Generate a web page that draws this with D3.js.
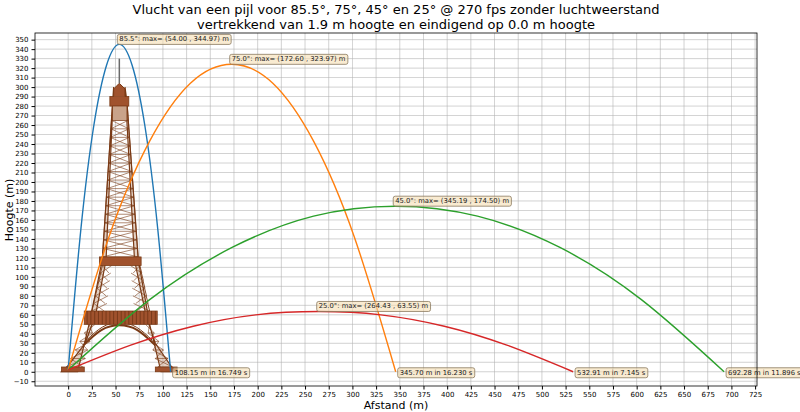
<!DOCTYPE html>
<html>
<head>
<meta charset="utf-8">
<script src="https://d3js.org/d3.v7.min.js"></script>
<style>
  body { margin: 0; background: #fff; }
  svg { font-family: "DejaVu Sans", sans-serif; }
</style>
</head>
<body>
<svg id="chart" width="800" height="412"></svg>
<script>
// series
var names = ["85.5°", "75.0°", "45.0°", "25.0°"];
var colors = ["#1f77b4", "#ff7f0e", "#2ca02c", "#d62728"];
var pts855 = [[0,1.9],[13.5,151],[27,259],[40.5,323],[54,345],[67.5,323],[81,259],[94.5,151],[108.15,0]];
var pts75 = [[0,1.9],[43,142],[86,243],[129,304],[172.6,324],[216,304],[259,243],[302,142],[345.7,0]];
var pts45 = [[0,1.9],[86,76],[173,131],[259,164],[345.2,174.5],[432,164],[519,131],[605,76],[692.28,0]];
var pts25 = [[0,1.9],[66,28],[132,48],[198,60],[264.4,63.5],[330,60],[397,48],[463,28],[532.91,0]];
var series = [pts855, pts75, pts45, pts25];
var maxLabels = ["85.5°: max= (54.00 , 344.97) m", "75.0°: max= (172.60 , 323.97) m",
                 "45.0°: max= (345.19 , 174.50) m", "25.0°: max= (264.43 , 63.55) m"];
var endLabels = ["108.15 m in 16.749 s", "345.70 m in 16.230 s", "532.91 m in 7.145 s", "692.28 m in 11.896 s"];
var endX = [108.15, 345.70, 532.91, 692.28];
var maxPts = [[54, 344.97], [172.6, 323.97], [345.19, 174.5], [264.43, 63.55]];

var xTicks = d3.range(0, 726, 25);
var yTicks = d3.range(-10, 351, 10);

// tower outline in data units
var legL = [[-7,0],[10,0],[22,50],[36,118],[47,285],[48,300],[40,118],[29,60],[18,30],[-2,4]];
var legR = [[115,0],[98,0],[86,50],[74,118],[62,285],[60,300],[70,118],[82,60],[92,30],[110,4]];
var platforms = [[-7,0,17,5],[92,0,115,5],[17,50,94,64],[33,112,77,121],[44,280,64,290]];

var svg = d3.select("#chart");
var m = { l: 35, r: 757, t: 33, b: 386 };
var x = d3.scaleLinear().domain([-35, 727]).range([m.l, m.r]);
var y = d3.scaleLinear().domain([-15, 357]).range([m.b, m.t]);

// grid
svg.append("g").selectAll("line").data(xTicks).join("line")
  .attr("x1", d => x(d)).attr("x2", d => x(d)).attr("y1", m.t).attr("y2", m.b)
  .attr("stroke", "#b0b0b0").attr("stroke-width", 0.8).attr("opacity", 0.7);
svg.append("g").selectAll("line").data(yTicks).join("line")
  .attr("y1", d => y(d)).attr("y2", d => y(d)).attr("x1", m.l).attr("x2", m.r)
  .attr("stroke", "#b0b0b0").attr("stroke-width", 0.8).attr("opacity", 0.7);

// tower
var tw = svg.append("g").attr("fill", "#a0522d").attr("stroke", "#7a3a15");
var line = d3.line().x(d => x(d[0])).y(d => y(d[1]));
[legL, legR].forEach(function (leg) {
  tw.append("path").attr("d", line(leg) + "Z").attr("fill", "#c9a38a").attr("fill-opacity", 0.5).attr("stroke-width", 1.2);
});
// lattice: upper shaft
d3.range(121, 280, 9).forEach(function (h) {
  var f = (h - 118) / 167, w0 = 36 + 11 * f, w1 = 74 - 12 * f;
  var h2 = h + 9, f2 = (h2 - 118) / 167, a0 = 36 + 11 * f2, a1 = 74 - 12 * f2;
  tw.append("path").attr("fill", "none").attr("stroke-width", 0.6)
    .attr("d", line([[w0,h],[a1,h2]]) + line([[w1,h],[a0,h2]]) + line([[w0,h],[w1,h]]));
  tw.append("path").attr("fill", "none").attr("stroke-width", 0.8).attr("d", line([[w0,h],[a0,h2]]) + line([[w1,h],[a1,h2]]));
});
// lattice: middle section
d3.range(64, 112, 8).forEach(function (h) {
  var f = (h - 64) / 48;
  var lo = 25 + 11 * f, li = 38 + 6 * f, ro = 86 - 10 * f, ri = 72 - 4 * f;
  tw.append("path").attr("fill", "none").attr("stroke-width", 0.6)
    .attr("d", line([[lo,h],[li+3,h+8]]) + line([[li,h],[lo+2,h+8]]) + line([[ro,h],[ri-3,h+8]]) + line([[ri,h],[ro-2,h+8]]));
  tw.append("path").attr("fill", "none").attr("stroke-width", 0.9).attr("d", line([[lo,h],[lo+2,h+8]]) + line([[ro,h],[ro-2,h+8]]));
});
// lower legs
d3.range(5, 50, 9).forEach(function (h) {
  var f = h / 50;
  var lo = -5 + 27 * f, li = 14 + 14 * f, ro = 113 - 27 * f, ri = 96 - 14 * f;
  tw.append("path").attr("fill", "none").attr("stroke-width", 0.6)
    .attr("d", line([[lo,h],[li+3,h+9]]) + line([[li,h],[lo+5,h+9]]) + line([[ro,h],[ri-3,h+9]]) + line([[ri,h],[ro-5,h+9]]) + line([[lo,h],[li,h]]) + line([[ro,h],[ri,h]]));
});
// arch
var smooth = d3.line().curve(d3.curveNatural).x(d => x(d[0])).y(d => y(d[1]));
tw.append("path").attr("fill", "none").attr("stroke-width", 2)
  .attr("d", smooth([[16,28],[35,44],[54,49],[73,44],[92,28]]));
tw.append("path").attr("fill", "none").attr("stroke-width", 1)
  .attr("d", smooth([[19,33],[36,47],[54,52],[72,47],[89,33]]));
// platforms
platforms.forEach(function (p) {
  tw.append("rect").attr("x", x(p[0])).attr("y", y(p[3])).attr("width", x(p[2]) - x(p[0])).attr("height", y(p[1]) - y(p[3]))
    .attr("stroke-width", 0.8);
});
d3.range(20, 94, 4).forEach(function (v) {
  tw.append("line").attr("x1", x(v)).attr("x2", x(v)).attr("y1", y(64)).attr("y2", y(50)).attr("stroke", "#5e2a0e").attr("stroke-width", 0.6);
});
// top dome and spire
tw.append("path").attr("stroke-width", 1)
  .attr("d", line([[48,290],[48,298],[54,304],[60,298],[60,290]]));
tw.append("rect").attr("x", x(47)).attr("y", y(280)).attr("width", x(62) - x(47)).attr("height", y(265) - y(280)).attr("fill", "#c9a38a").attr("stroke-width", 0.6);
tw.append("line").attr("x1", x(54)).attr("x2", x(54)).attr("y1", y(304)).attr("y2", y(330)).attr("stroke", "#6a6a6a").attr("stroke-width", 1.5);

// trajectories
svg.append("g").selectAll("path").data(series).join("path")
  .attr("d", smooth).attr("fill", "none").attr("stroke", (d, i) => colors[i]).attr("stroke-width", 1.4);

// annotations
function box(tx, ty, txt) {
  var g = svg.append("g");
  var t = g.append("text").attr("x", tx).attr("y", ty).attr("font-size", 6.8).attr("fill", "#222").text(txt);
  var bb = t.node().getBBox();
  g.insert("rect", "text").attr("x", bb.x - 2).attr("y", bb.y - 1).attr("width", bb.width + 4).attr("height", bb.height + 2)
    .attr("rx", 2).attr("fill", "#f5deb3").attr("fill-opacity", 0.6).attr("stroke", "#8a7a60").attr("stroke-width", 0.8);
}
maxPts.forEach(function (p, i) { box(x(p[0]), y(p[1]) - 3, maxLabels[i]); });
endX.forEach(function (v, i) { box(x(v) + 4, y(0) + 3, endLabels[i]); });

// frame and axes
svg.append("rect").attr("x", m.l).attr("y", m.t).attr("width", m.r - m.l).attr("height", m.b - m.t)
  .attr("fill", "none").attr("stroke", "#000").attr("stroke-width", 0.8);
svg.append("g").attr("transform", "translate(0," + m.b + ")")
  .call(d3.axisBottom(x).tickValues(xTicks).tickSize(3.5).tickSizeOuter(0))
  .call(g => g.select(".domain").remove())
  .call(g => g.selectAll("text").attr("font-size", 7).attr("font-family", "DejaVu Sans"));
svg.append("g").attr("transform", "translate(" + m.l + ",0)")
  .call(d3.axisLeft(y).tickValues(yTicks).tickSize(3.5).tickSizeOuter(0).tickFormat(d => d < 0 ? "\u2212" + (-d) : d))
  .call(g => g.select(".domain").remove())
  .call(g => g.selectAll("text").attr("font-size", 7).attr("font-family", "DejaVu Sans"));

svg.append("text").attr("x", 396).attr("y", 409).attr("text-anchor", "middle").attr("font-size", 11).text("Afstand (m)");
svg.append("text").attr("transform", "translate(13,210) rotate(-90)").attr("text-anchor", "middle").attr("font-size", 11).text("Hoogte (m)");
svg.append("text").attr("x", 396).attr("y", 14).attr("text-anchor", "middle").attr("font-size", 13)
  .text("Vlucht van een pijl voor 85.5°, 75°, 45° en 25° @ 270 fps zonder luchtweerstand");
svg.append("text").attr("x", 396).attr("y", 29).attr("text-anchor", "middle").attr("font-size", 13)
  .text("vertrekkend van 1.9 m hoogte en eindigend op 0.0 m hoogte");
</script>
</body>
</html>
